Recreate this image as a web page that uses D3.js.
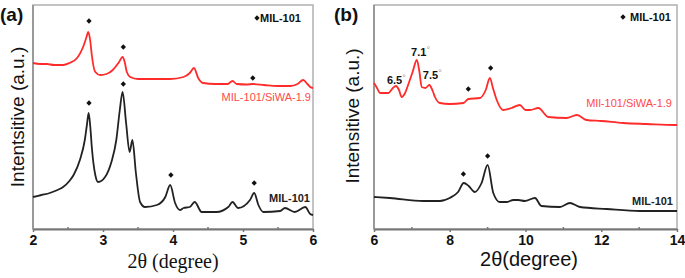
<!DOCTYPE html>
<html><head><meta charset="utf-8">
<script src="https://cdn.jsdelivr.net/npm/d3@7"></script>
<style>body{margin:0;background:#fff}svg{display:block}</style>
</head><body>
<svg id="c" width="685" height="278"></svg>
<script>
// ---------- Data (2θ in degree, intensity in a.u.) ----------
const aTicks = [2, 3, 4, 5, 6];
const aMinor = [2.5, 3.5, 4.5, 5.5];
const aRed = [[2.0,166],[2.1,165],[2.2,165],[2.3,164],[2.43,164],[2.52,166],[2.63,171],[2.71,181],[2.76,191],[2.79,197],[2.82,187],[2.84,174],[2.89,157],[2.96,154],[3.05,155],[3.14,159],[3.23,167],[3.28,172],[3.31,167],[3.34,157],[3.39,152],[3.5,150],[3.7,150],[3.96,150],[4.15,152],[4.24,156],[4.30,161],[4.36,151],[4.43,146],[4.6,145],[4.78,145],[4.85,148],[4.91,145],[5.05,144.5],[5.14,145],[5.3,144],[5.5,143],[5.67,143],[5.78,145],[5.86,149],[5.92,145],[5.96,142],[6.0,141]];
const aBlack = [[2.0,32],[2.12,34],[2.24,36],[2.35,39],[2.43,42],[2.52,48],[2.58,54],[2.67,69],[2.74,89],[2.77,104],[2.795,116],[2.82,101],[2.84,82],[2.89,54],[2.93,47],[3.03,52],[3.12,67],[3.19,89],[3.24,119],[3.28,137],[3.33,106],[3.38,77],[3.42,89],[3.47,56],[3.53,27],[3.6,22],[3.77,24],[3.89,32],[3.96,44],[4.03,26],[4.1,19],[4.15,21],[4.24,22],[4.31,27],[4.41,17],[4.62,17],[4.79,22],[4.85,27],[4.93,21],[5.1,29],[5.16,36],[5.22,24],[5.29,17],[5.53,18],[5.6,21],[5.74,17],[5.89,22],[5.96,15],[6.0,14]];
const aRedMarks = [[2.80,208],[3.29,182],[5.14,151]];
const aBlackMarks = [[2.80,126],[3.29,145],[3.97,54],[5.16,46]];

const bTicks = [6, 8, 10, 12, 14];
const bMinor = [7, 9, 11, 13];
const bRed = [[6.0,146],[6.08,141],[6.16,136],[6.38,136],[6.5,141],[6.58,143],[6.66,139],[6.73,132],[6.82,136],[6.9,144],[7.02,157],[7.13,169],[7.2,157],[7.26,142],[7.36,141],[7.46,144],[7.55,138],[7.61,132],[7.74,126],[8.0,125],[8.36,126],[8.49,130],[8.8,131],[8.95,139],[9.06,151],[9.14,141],[9.24,129],[9.41,119],[9.63,121],[9.85,124],[10.0,119],[10.12,119],[10.34,121],[10.6,112],[11.08,111],[11.36,114],[11.61,109],[12.0,108],[12.58,106],[13.2,105],[13.94,104],[14.0,104]];
const bBlack = [[6.0,32],[6.42,31],[7.3,28],[7.74,28],[8.0,31],[8.22,37],[8.37,46],[8.5,43],[8.66,37],[8.84,46],[9.0,64],[9.15,36],[9.32,27],[9.5,27],[9.68,29],[9.81,29],[9.98,28],[10.25,31],[10.42,23],[10.91,22],[11.17,26],[11.44,22],[12.14,20],[13.02,18],[14.0,18]];
const bRedMarks = [[8.49,140],[9.08,161]];
const bBlackMarks = [[8.36,55],[9.0,73]];
const bPeakLabels = [["6.5",6.34,145],["7.1",6.98,173],["7.5",7.29,150]];

// ---------- Drawing ----------
const svg = d3.select("#c");
const RED = "#ff2a2a", BLACK = "#222";
const diamond = d3.symbol().type(d3.symbolSquare).size(14);
const mark = (sel) => sel.attr("d", diamond).attr("fill", "#111");

function panel(o) {
  const x = d3.scaleLinear().domain(o.domain).range([o.left, o.right]);
  const y = d3.scaleLinear().domain([0, 224]).range([229, 5]);
  const g = svg.append("g");
  g.append("rect").attr("x", o.left).attr("y", 5).attr("width", o.right - o.left).attr("height", 224)
    .attr("fill", "none").attr("stroke", "#b0b0b0").attr("stroke-width", 1.5);
  g.append("line").attr("x1", o.left).attr("x2", o.left).attr("y1", 5).attr("y2", 229)
    .attr("stroke", "#999").attr("stroke-width", 2);
  const ax = g.append("g").attr("transform", "translate(0,229)")
    .call(d3.axisBottom(x).tickValues(o.ticks).tickFormat(d3.format("d")).tickSize(3).tickSizeOuter(0).tickPadding(3));
  ax.select(".domain").attr("stroke", "#777").attr("stroke-width", 2);
  ax.selectAll(".tick line").attr("stroke", "#777").attr("stroke-width", 1.5);
  ax.selectAll("text").attr("font-family", "Liberation Sans, Arial, sans-serif")
    .attr("font-size", 14).attr("font-weight", "bold").attr("fill", "#111");
  g.selectAll(".minor").data(o.minor).enter().append("line")
    .attr("x1", d => x(d)).attr("x2", d => x(d)).attr("y1", 227).attr("y2", 230)
    .attr("stroke", "#777").attr("stroke-width", 1.5);
  const line = d3.line().x(d => x(d[0])).y(d => y(d[1])).curve(d3.curveMonotoneX);
  g.append("path").attr("d", line(o.red)).attr("fill", "none").attr("stroke", RED).attr("stroke-width", 1.8);
  g.append("path").attr("d", line(o.black)).attr("fill", "none").attr("stroke", BLACK).attr("stroke-width", 1.8);
  g.selectAll(".mk").data(o.redMarks.concat(o.blackMarks)).enter().append("path")
    .call(mark).attr("transform", d => `translate(${x(d[0])},${y(d[1])}) rotate(45)`);
  return {x, y, g};
}

const A = panel({domain:[2,6], left:33, right:313, ticks:aTicks, minor:aMinor, red:aRed, black:aBlack, redMarks:aRedMarks, blackMarks:aBlackMarks});
const B = panel({domain:[6,14], left:374, right:677, ticks:bTicks, minor:bMinor, red:bRed, black:bBlack, redMarks:bRedMarks, blackMarks:bBlackMarks});

const SANS = "Liberation Sans, Arial, sans-serif";
function txt(x, y, s, opt) {
  const t = svg.append("text").attr("x", x).attr("y", y).text(s)
    .attr("font-family", opt.family || SANS).attr("font-size", opt.size)
    .attr("font-weight", opt.weight || "normal").attr("fill", opt.fill || "#111")
    .attr("text-anchor", opt.anchor || "start");
  if (opt.rotate) t.attr("transform", `rotate(-90,${x},${y})`);
  return t;
}
txt(0, 21, "(a)", {size:19, weight:"bold"});
txt(334, 21, "(b)", {size:19, weight:"bold"});
txt(173, 268, "2θ (degree)", {size:20, family:"Liberation Serif, Times New Roman, serif", anchor:"middle"});
txt(529, 266, "2θ(degree)", {size:20, anchor:"middle"});
txt(24, 117, "Intentsitive (a.u.)", {size:19, anchor:"middle", rotate:true});
txt(359, 116, "Intensitive (a.u.)", {size:19, anchor:"middle", rotate:true});
svg.append("path").call(mark).attr("transform", "translate(257,18) rotate(45)");
txt(260, 22, "MIL-101", {size:11, weight:"bold"});
svg.append("path").call(mark).attr("transform", "translate(623,17) rotate(45)");
txt(630, 21, "MIL-101", {size:11, weight:"bold"});
txt(311, 101, "MIL-101/SiWA-1.9", {size:11, fill:"#ff4a4a", anchor:"end"});
txt(310, 202, "MIL-101", {size:11, weight:"bold", fill:"#222", anchor:"end"});
txt(672, 107, "MIl-101/SiWA-1.9", {size:11, fill:"#ff4a4a", anchor:"end"});
txt(673, 205, "MIL-101", {size:11, weight:"bold", fill:"#222", anchor:"end"});
bPeakLabels.forEach(p => {
  const t = txt(B.x(p[1]), B.y(p[2]), p[0], {size:11, weight:"bold"});
  t.append("tspan").attr("font-size", 9).attr("font-weight", "normal").attr("fill", "#999").attr("dy", -3).text("°");
});
</script>
</body></html>
